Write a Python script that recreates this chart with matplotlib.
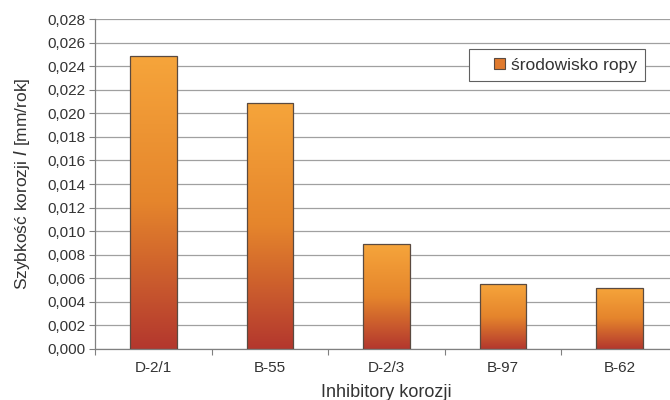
import numpy as np
import matplotlib.pyplot as plt
from matplotlib.colors import LinearSegmentedColormap
from matplotlib.legend_handler import HandlerPatch
from matplotlib.patches import Rectangle, Patch

categories = ['D-2/1', 'B-55', 'D-2/3', 'B-97', 'B-62']
values = [0.0249, 0.0209, 0.0089, 0.0055, 0.0052]
yticks = [0.000, 0.002, 0.004, 0.006, 0.008, 0.010, 0.012, 0.014,
          0.016, 0.018, 0.020, 0.022, 0.024, 0.026, 0.028]

plt.rcParams['font.family'] = ['Liberation Sans', 'DejaVu Sans']
plt.rcParams['text.color'] = '#333333'
plt.rcParams['axes.labelcolor'] = '#333333'
plt.rcParams['xtick.labelcolor'] = '#333333'
plt.rcParams['ytick.labelcolor'] = '#333333'

cmap = LinearSegmentedColormap.from_list(
    'bar', [(0.0, '#b3372e'), (0.5, '#e5852c'), (1.0, '#f6a53b')])

fig = plt.figure(figsize=(6.7, 4.0), dpi=100)
ax = fig.add_axes([95 / 670, 51 / 400, 583 / 670, 330 / 400])

x = np.arange(len(categories))
width = 0.4
grad = np.linspace(0, 1, 256).reshape(-1, 1)
for xi, v in zip(x, values):
    left = xi - width / 2
    im = ax.imshow(grad, cmap=cmap, origin='lower', aspect='auto',
                   extent=[left, left + width, 0, v], zorder=2)
    rect = Rectangle((left, 0), width, v, facecolor='none',
                     edgecolor='#5a4a40', linewidth=0.9, zorder=3)
    ax.add_patch(rect)
    im.set_clip_path(rect)

ax.set_xlim(-0.5, len(categories) - 0.5)
ax.set_ylim(0, 0.028)

ax.set_yticks(yticks)
ax.set_yticklabels([f'{t:.3f}'.replace('.', ',') for t in yticks], fontsize=11)
ax.yaxis.grid(True, color='#a0a0a0', linewidth=0.9, zorder=0)
ax.set_axisbelow(True)

# ticks sit between categories, labels at the centres
ax.set_xticks(np.arange(len(categories) + 1) - 0.5)
ax.set_xticklabels([])
ax.set_xticks(x, minor=True)
ax.set_xticklabels(categories, minor=True, fontsize=11)
ax.tick_params(axis='x', which='minor', length=0, pad=9)
ax.tick_params(axis='x', which='major', length=4, color='#808080')
ax.tick_params(axis='y', length=4, color='#808080', pad=3)

for side in ['top', 'right']:
    ax.spines[side].set_visible(False)
for side in ['left', 'bottom']:
    ax.spines[side].set_color('#808080')
    ax.spines[side].set_linewidth(0.9)

ax.set_ylabel('Szybkość korozji $\\mathbf{\\mathit{I}}$ [mm/rok]', fontsize=12.5, labelpad=11)
ax.set_xlabel('Inhibitory korozji', fontsize=13, labelpad=6)


def square_patch(legend, orig_handle, xdescent, ydescent, width, height, fontsize):
    return Rectangle((width - height - xdescent, -ydescent), height, height)


handle = Patch(facecolor='#e07a2e', edgecolor='#5a4a40', linewidth=0.8)
leg = fig.legend([handle], ['środowisko ropy'], loc='upper left',
                 bbox_to_anchor=(469 / 670, 1 - 49 / 400), fontsize=12.5,
                 fancybox=False, framealpha=1, handlelength=1.6,
                 handleheight=0.65, handletextpad=0.3, borderpad=0.5,
                 borderaxespad=0,
                 handler_map={Patch: HandlerPatch(patch_func=square_patch)})
leg.get_frame().set_edgecolor('#606060')
leg.get_frame().set_linewidth(0.8)

fig.savefig('out.png', dpi=100)
